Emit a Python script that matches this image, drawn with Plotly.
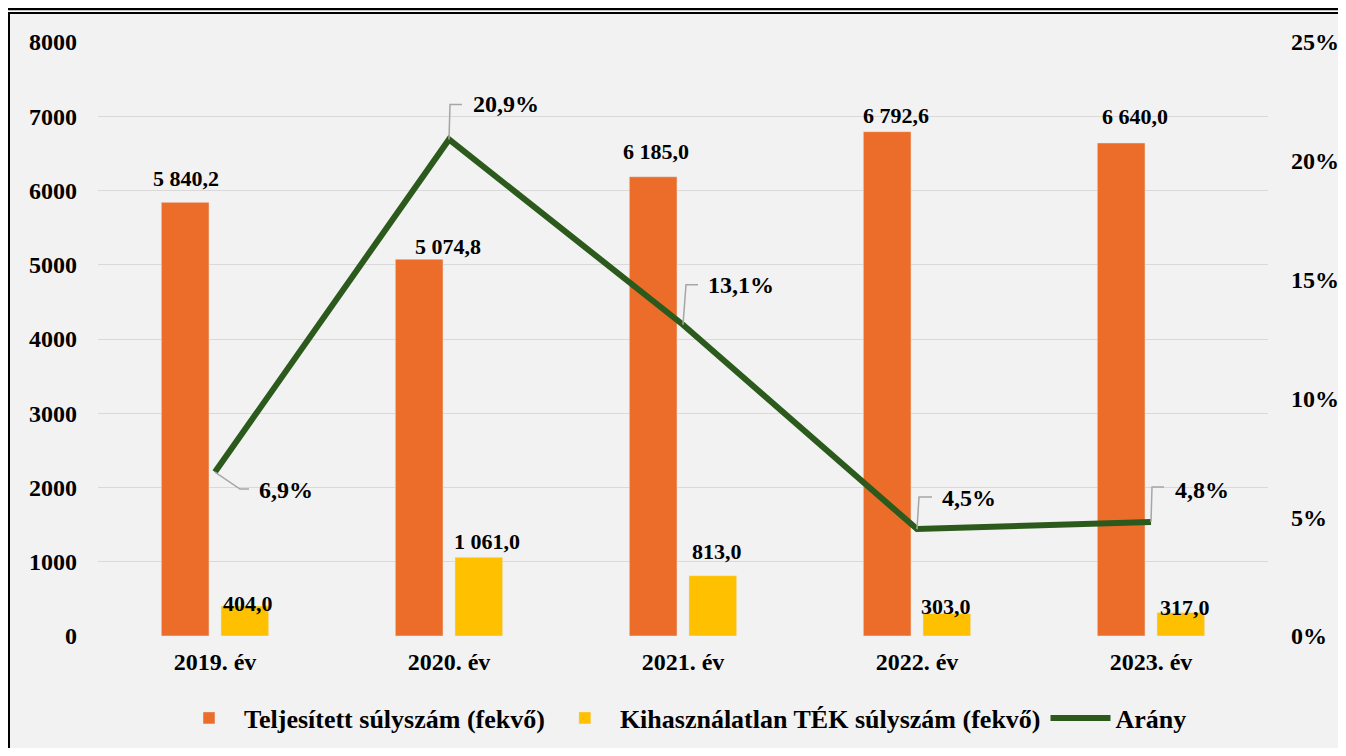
import plotly.graph_objects as go
from plotly.subplots import make_subplots

# adatok
evek = ['2019. év', '2020. év', '2021. év', '2022. év', '2023. év']
teljesitett = [5840.2, 5074.8, 6185.0, 6792.6, 6640.0]
kihasznalatlan = [404.0, 1061.0, 813.0, 303.0, 317.0]
arany = [6.9, 20.9, 13.1, 4.5, 4.8]

# oszlop címkék eltolása (pixel) a kategória közepétől / az oszlop tetejétől
telj_dx = [-29, -1, -27, -21, -16]
telj_dy = [24, 13, 25, 16, 26]
kih_dx = [33, 38, 34, 29, 34]
kih_dy = [3, 16, 24, 7, 5]

# százalék címkék eltolása (pixel) a vonal pontjaihoz
cimke_dx = [42, 22, 23, 23, 22]
cimke_dy = [-18, 35, 40, 31, 32]
vezeto = [
    'M0,0 L25,-17 L34,-17',
    'M0,0 L1,35 L13,35',
    'M0,0 L3,40 L15,40',
    'M0,0 L2,32 L15,32',
    'M0,0 L1,35 L13,35',
]

FONT = 'Liberation Serif'
# az oldal body-ja 8 px margót ad minden oldalon, ezért a figura kisebb
W, H = 1330, 740
L, R, T, B = 90, 70, 34, 112
OFS = 8


def xp(px):
    return (px - OFS - L) / (W - L - R)


def yp(py):
    return (H - B - (py - OFS)) / (H - T - B)


def betu(size=22):
    return dict(family=FONT, size=size, color='black', weight='bold')


def szam(v):
    return f'{v:,.1f}'.replace(',', ' ').replace('.', ',')


fig = make_subplots(specs=[[{'secondary_y': True}]])

fig.add_trace(
    go.Bar(
        x=evek, y=teljesitett,
        name='Teljesített súlyszám (fekvő)',
        marker=dict(color='#EC6C2A'),
    ),
    secondary_y=False,
)

fig.add_trace(
    go.Bar(
        x=evek, y=kihasznalatlan,
        name='Kihasználatlan TÉK súlyszám (fekvő)',
        marker=dict(color='#FFC000'),
    ),
    secondary_y=False,
)

fig.add_trace(
    go.Scatter(
        x=evek, y=arany,
        name='Arány',
        mode='lines',
        line=dict(color='#2C5A1C', width=6),
        cliponaxis=False,
    ),
    secondary_y=True,
)

# oszlop címkék
for i, ev in enumerate(evek):
    fig.add_annotation(
        x=ev, y=teljesitett[i], xref='x', yref='y',
        text=szam(teljesitett[i]), showarrow=False,
        xshift=telj_dx[i], yshift=telj_dy[i], yanchor='middle',
        font=betu(22),
    )
    fig.add_annotation(
        x=ev, y=kihasznalatlan[i], xref='x', yref='y',
        text=szam(kihasznalatlan[i]), showarrow=False,
        xshift=kih_dx[i], yshift=kih_dy[i], yanchor='middle',
        font=betu(22),
    )

# vezető vonalak és százalék címkék
for i, (ev, v) in enumerate(zip(evek, arany)):
    fig.add_shape(
        type='path',
        xref='x', yref='y2',
        xsizemode='pixel', ysizemode='pixel',
        xanchor=ev, yanchor=v,
        path=vezeto[i],
        line=dict(color='#A6A6A6', width=1.5),
    )
    fig.add_annotation(
        x=ev, y=v, xref='x', yref='y2',
        text=f'{v:.1f}'.replace('.', ',') + '%',
        showarrow=False,
        xanchor='left', yanchor='middle',
        xshift=cimke_dx[i], yshift=cimke_dy[i],
        font=betu(24),
    )

# keret és felső vonal
fig.add_shape(
    type='rect', xref='paper', yref='paper',
    x0=xp(9), x1=xp(1370), y0=yp(13), y1=yp(790),
    fillcolor='#F2F2F2', line=dict(color='black', width=2),
    layer='below',
)
fig.add_shape(
    type='line', xref='paper', yref='paper',
    x0=xp(0), x1=xp(1360), y0=yp(9), y1=yp(9),
    line=dict(color='black', width=2.5),
)

fig.update_layout(
    width=W, height=H,
    margin=dict(l=L, r=R, t=T, b=B, autoexpand=False),
    paper_bgcolor='white',
    plot_bgcolor='#F2F2F2',
    separators=', ',
    barmode='group',
    bargap=0.49,
    bargroupgap=0.2,
    font=dict(family=FONT, size=22, color='black'),
    legend=dict(
        orientation='h',
        x=0.5, xanchor='center',
        y=yp(718), yanchor='middle',
        font=betu(26),
        bgcolor='rgba(0,0,0,0)',
        itemwidth=60,
    ),
)

fig.update_xaxes(
    domain=[0, 1],
    showgrid=False,
    showline=False,
    ticks='',
    tickfont=betu(24),
    ticklabelstandoff=9,
    automargin=False,
)

fig.update_yaxes(
    range=[0, 8000],
    dtick=1000,
    showgrid=True,
    gridcolor='#D9D9D9',
    gridwidth=1,
    zeroline=False,
    ticks='',
    tickfont=betu(24),
    ticklabelstandoff=20,
    automargin=False,
    secondary_y=False,
)

fig.update_yaxes(
    range=[0, 25],
    dtick=5,
    ticksuffix='%',
    showgrid=False,
    zeroline=False,
    ticks='',
    tickfont=betu(24),
    ticklabelstandoff=22,
    automargin=False,
    secondary_y=True,
)

fig.write_html('out.html')
